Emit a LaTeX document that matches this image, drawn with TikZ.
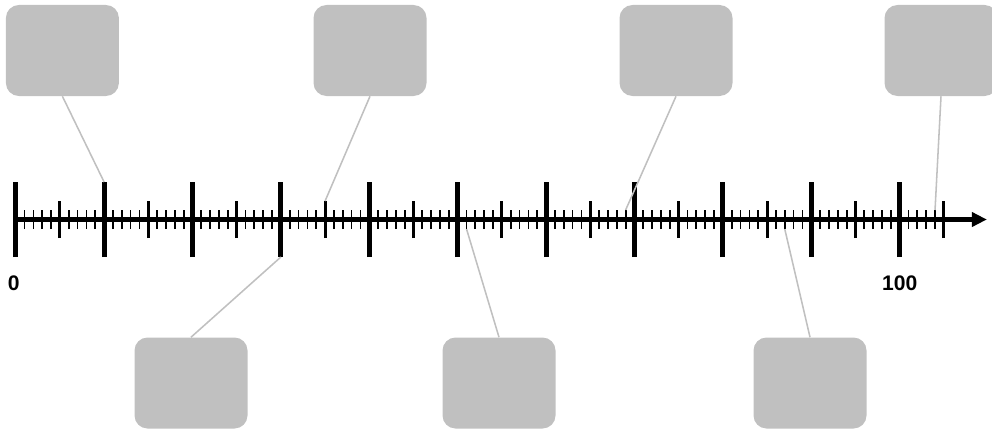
\documentclass[tikz,border=0pt]{standalone}
\usepackage{fontspec}
\setmainfont{Liberation Sans}
\usetikzlibrary{arrows.meta, positioning}
\definecolor{boxgray}{RGB}{192,192,192}

\begin{document}
\begin{tikzpicture}
\tikzstyle{event} = [rectangle, rounded corners=0.325 cm, minimum width=2.825 cm, minimum height=2.275 cm, fill=boxgray, draw=none]
\tikzstyle{pointer} = [draw=boxgray, line width=1.1 pt]
\tikzstyle{scalelabel} = [font=\bfseries\fontsize{15}{18}\selectfont]

\useasboundingbox (-0.3925,-5.3875) rectangle (24.4075,5.4875);

% axis
\draw [line width=3.2 pt, -{Triangle[length=0.375cm,width=0.35cm]}] (0,0) -- (24.28,0);

% ticks: small, medium, large
\foreach \i in {0,...,104}
  \draw [line width=1.25 pt] (\i*0.221,-0.2375) coordinate (b\i) -- (\i*0.221,0.2375) coordinate (t\i);
\foreach \i in {5,15,...,105}
  \draw [line width=2.1 pt] (\i*0.221,-0.4625) coordinate (b\i) -- (\i*0.221,0.4625) coordinate (t\i);
\foreach \i in {0,10,...,100}
  \draw [line width=3.6 pt] (\i*0.221,-0.9375) coordinate (b\i) -- (\i*0.221,0.9375) coordinate (t\i);

\node (zero)    [scalelabel] at (-0.05,-1.6) {0};
\node (hundred) [scalelabel] at (22.1,-1.6) {100};

% events
\node (e1) [event] at (1.1675,4.225) {};
\node (e2) [event] at (8.8575,4.225) {};
\node (e3) [event] at (16.5075,4.225) {};
\node (e4) [event] at (23.1325,4.225) {};
\node (e5) [event] at (4.3825,-4.0875) {};
\node (e6) [event] at (12.0825,-4.0875) {};
\node (e7) [event] at (19.8575,-4.0875) {};

\draw [pointer] (e1.south) -- (t10);
\draw [pointer] (e2.south) -- (t35);
\draw [pointer] (e3.south) -- (t69);
\draw [pointer] (e4.south) -- (t104);
\draw [pointer] (e5.north) -- (b30);
\draw [pointer] (e6.north) -- (b51);
\draw [pointer] (e7.north) -- (b87);

\end{tikzpicture}
\end{document}
